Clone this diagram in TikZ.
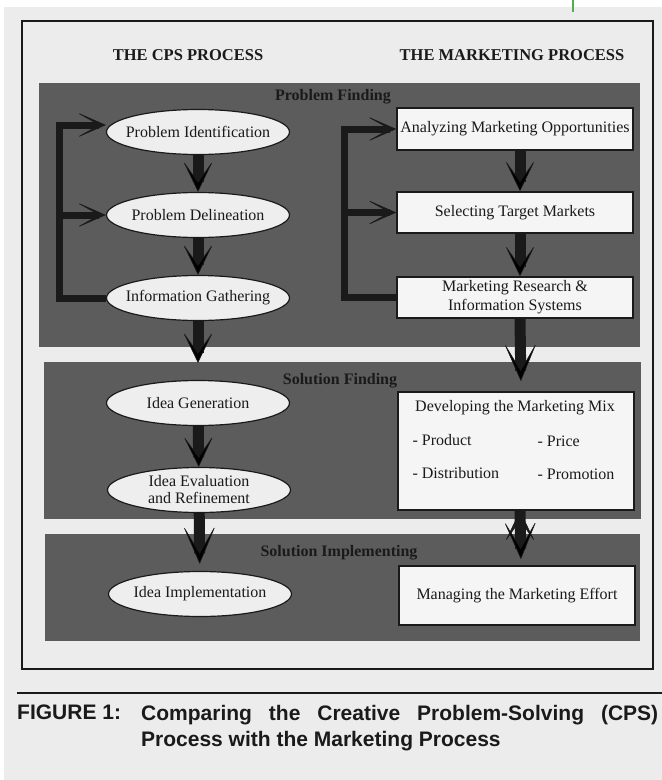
\documentclass[tikz,border=0pt]{standalone}
\usepackage{fontspec}
\setmainfont{Liberation Serif}
\newfontfamily\capfont{Liberation Sans}
\usetikzlibrary{arrows.meta,positioning,shapes.geometric}

\definecolor{paper}{HTML}{ECECEC}
\definecolor{bandgray}{HTML}{5C5C5C}
\definecolor{ink}{HTML}{1A1A1A}
\definecolor{ovalfill}{HTML}{EEEEEE}
\definecolor{boxfill}{HTML}{F5F5F5}
\definecolor{tick}{HTML}{4CB04C}

\begin{document}
\begin{tikzpicture}[x=1pt,y=-1pt,font=\fontsize{16}{17}\selectfont,text=ink,
    oval/.style={ellipse,draw=ink,line width=1.2pt,fill=ovalfill,minimum width=183pt,
      minimum height=45pt,inner xsep=-25pt,inner ysep=-4pt,align=center},
    mbox/.style={rectangle,draw=ink,line width=1.5pt,fill=boxfill,minimum width=236pt,
      inner sep=2pt,align=center},
    band/.style={fill=bandgray},
    bandlbl/.style={font=\fontsize{16}{18}\selectfont\bfseries},
    head/.style={font=\fontsize{16.5}{18}\selectfont\bfseries},
    dnarrow/.style={draw=ink,line width=11pt,-{Stealth[length=32pt,width=31pt,inset=22pt,line width=0.6pt]}},
    bigtip/.style={-{Stealth[length=40pt,width=34pt,inset=29pt,line width=0.6pt]}},
    barrow/.style={draw=ink,line width=7pt,-{Stealth[length=32pt,width=28pt,inset=25pt,line width=0.6pt]}},
    capt/.style={font=\capfont\bfseries\fontsize{21}{26}\selectfont,text=ink,inner sep=0pt,anchor=north west}]
  \useasboundingbox (0,0) rectangle (662,780);
  \fill[white] (0,0) rectangle (662,780);
  \fill[paper] (4,7) rectangle (662,780);
  \draw[tick,line width=2pt] (573,0) -- (573,12);

  % frame and headings
  \draw[ink,line width=2pt] (22,21) rectangle (653,669);
  \node[head] (hcps) at (188,55) {THE CPS PROCESS};
  \node[head] (hmkt) at (512,55) {THE MARKETING PROCESS};

  % the three stages
  \fill[band] (39,83) rectangle (640,347);
  \fill[band] (44,362) rectangle (641,519);
  \fill[band] (45,534) rectangle (640,641);
  \node[bandlbl] (pf) at (333,97) {Problem Finding};
  \node[bandlbl] (sf) at (340,381) {Solution Finding};
  \node[bandlbl] (si) at (339,553) {Solution Implementing};

  % CPS side
  \node[oval] (pid) at (198,132) {Problem Identification};
  \node[oval] (pdl) at (198,215) {Problem Delineation};
  \node[oval] (ifg) at (198,298) {Information Gathering};
  \node[oval] (igen) at (198,403) {Idea Generation};
  \node[oval] (iev) at (199,490) {Idea Evaluation\\and Refinement};
  \node[oval] (iimp) at (200,594) {Idea Implementation};

  % marketing side
  \node[mbox,minimum height=42pt] (amo) at (515,129) {Analyzing Marketing Opportunities};
  \node[mbox,minimum height=41pt] (stm) at (515,212.5) {Selecting Target Markets};
  \node[mbox,minimum height=41pt,font=\fontsize{16}{19}\selectfont] (mris) at (515,297.5) {Marketing Research \&\\Information Systems};
  \node[mbox,minimum height=118pt] (dmm) at (516,451) {};
  \node (dmmT) at (515,408) {Developing the Marketing Mix};
  \node[anchor=west] (prod) at (409,440) {- Product};
  \node[anchor=west] (pric) at (534,441) {- Price};
  \node[anchor=west] (dist) at (409,473) {- Distribution};
  \node[anchor=west] (prom) at (534,474) {- Promotion};
  \node[mbox,minimum height=59pt] (mme) at (517,595.5) {Managing the Marketing Effort};

  % feedback brackets
  \coordinate (lbar) at (59,0);
  \coordinate (rbar) at (344,0);
  \draw[barrow] (ifg.west) -- (ifg.west -| lbar) -- ([yshift=7pt]pid.west -| lbar) -- ([yshift=7pt]pid.west);
  \draw[barrow] (pdl.west -| lbar) -- (pdl.west);
  \draw[barrow] (mris.west) -- (mris.west -| rbar) -- (amo.west -| rbar) -- (amo.west);
  \draw[barrow] (stm.west -| rbar) -- (stm.west);

  % flow downwards
  \path[dnarrow] (pid) edge (pdl)
    (pdl) edge (ifg)
    (ifg) edge[shorten >=17pt] (igen)
    (igen) edge (iev)
    (iev) edge[bigtip,shorten >=7pt] (iimp);
  \path[dnarrow] ([xshift=5pt]amo.south) edge ([xshift=5pt]stm.north)
    ([xshift=5pt]stm.south) edge ([xshift=5pt]mris.north)
    ([xshift=5pt]mris.south) edge[bigtip,shorten >=10pt] ([xshift=5pt]dmm.north)
    ([xshift=4pt]dmm.south) edge[bigtip,shorten >=6pt] ([xshift=4pt]mme.north);

  % caption
  \draw[ink,line width=2pt] (17,693) -- (662,693);
  \node[capt] (fig) at (17,705) {FIGURE 1:};
  \node[capt,align=left] (cap) at (141,705) {\makebox[517pt][s]{Comparing the Creative Problem-Solving (CPS)}\\Process with the Marketing Process};
\end{tikzpicture}
\end{document}
